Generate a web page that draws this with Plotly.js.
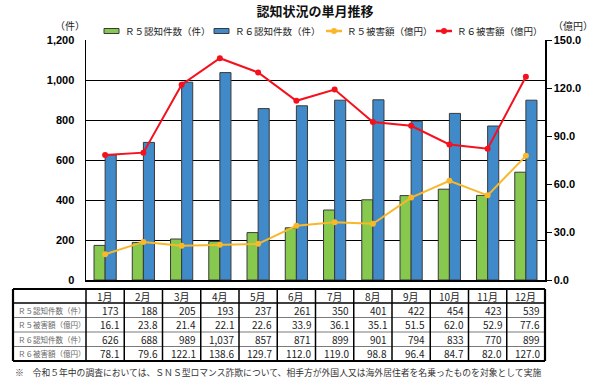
<!DOCTYPE html>
<html><head><meta charset="utf-8">
<script src="https://cdn.plot.ly/plotly-3.0.1.min.js"></script>
<style>body{margin:0;background:#fff}</style>
</head><body><div id="chart" style="width:595px;height:380px"></div>
<script>
const months = ['1月','2月','3月','4月','5月','6月','7月','8月','9月','10月','11月','12月'];
const r5Count = [173,188,205,193,237,261,350,401,422,454,423,539];
const r5Damage = [16.1,23.8,21.4,22.1,22.6,33.9,36.1,35.1,51.5,62.0,52.9,77.6];
const r6Count = [626,688,989,1037,857,871,899,901,794,833,770,899];
const r6Damage = [78.1,79.6,122.1,138.6,129.7,112.0,119.0,98.8,96.4,84.7,82.0,127.0];
const nameR5Count = 'Ｒ５認知件数（件）';
const nameR6Count = 'Ｒ６認知件数（件）';
const nameR5Damage = 'Ｒ５被害額（億円）';
const nameR6Damage = 'Ｒ６被害額（億円）';
const leftTicks = [0,200,400,600,800,1000,1200];
const rightTicks = [0,30,60,90,120,150];
const titleText = '認知状況の単月推移';
const footnote = '※　令和５年中の調査においては、ＳＮＳ型ロマンス詐欺について、相手方が外国人又は海外居住者を名乗ったものを対象として実施';

const JP = '"Noto Sans CJK JP", "Noto Sans", sans-serif';
const W = 595, H = 380, L = 86, R = 50, T = 40, B = 100;
const pw = W - L - R, ph = H - T - B;
const px2x = p => (p - L) / pw;
const py2y = p => (H - B - p) / ph;

const colors = {g:'#86C94E', b:'#418AC9', o:'#F9B72A', r:'#F5101E'};

const traces = [
  {type:'bar', x:months, y:r5Count, name:nameR5Count, marker:{color:colors.g, line:{color:'#3a3a3a', width:1}}, yaxis:'y'},
  {type:'bar', x:months, y:r6Count, name:nameR6Count, marker:{color:colors.b, line:{color:'#3a3a3a', width:1}}, yaxis:'y'},
  {type:'scatter', mode:'lines+markers', x:months, y:r5Damage, name:nameR5Damage, line:{color:colors.o, width:2}, marker:{color:colors.o, size:6}, yaxis:'y2'},
  {type:'scatter', mode:'lines+markers', x:months, y:r6Damage, name:nameR6Damage, line:{color:colors.r, width:2}, marker:{color:colors.r, size:6}, yaxis:'y2'}
];

const shapes = [];
const annotations = [];
// manual legend
const legY = 31;
const legItems = [
  {x:104, kind:'bar', color:colors.g, name:nameR5Count},
  {x:214, kind:'bar', color:colors.b, name:nameR6Count},
  {x:326, kind:'line', color:colors.o, name:nameR5Damage},
  {x:436, kind:'line', color:colors.r, name:nameR6Damage}
];
legItems.forEach(it => {
  if (it.kind === 'bar') {
    shapes.push({type:'rect', xref:'paper', yref:'paper', x0:px2x(it.x), x1:px2x(it.x+15), y0:py2y(legY+2.5), y1:py2y(legY-2.5),
      fillcolor:it.color, line:{color:'#3a3a3a', width:1}});
  } else {
    shapes.push({type:'line', xref:'paper', yref:'paper', x0:px2x(it.x), x1:px2x(it.x+16), y0:py2y(legY), y1:py2y(legY),
      line:{color:it.color, width:2.5}});
    shapes.push({type:'circle', xref:'paper', yref:'paper', x0:px2x(it.x+5), x1:px2x(it.x+11), y0:py2y(legY+3), y1:py2y(legY-3),
      fillcolor:it.color, line:{color:it.color, width:0}});
  }
  annotations.push({xref:'paper', yref:'paper', x:px2x(it.x+19), y:py2y(legY), text:it.name, showarrow:false,
    xanchor:'left', yanchor:'middle', font:{family:JP, size:9.5, color:'#222'}});
});

// table geometry
const rowPx = [289, 303, 317.5, 332, 346.5, 361];
const tableLeft = px2x(13);
const colX = [tableLeft];
for (let k = 0; k <= 12; k++) colX.push(k / 12);
rowPx.forEach((p, i) => {
  const outer = (i === 0 || i === rowPx.length - 1);
  shapes.push({type:'line', xref:'paper', yref:'paper', x0:tableLeft, x1:1, y0:py2y(p), y1:py2y(p),
    line:{color: (outer || i === 1) ? '#000' : '#7a7a7a', width: outer ? 2.2 : (i===1 ? 1.5 : 1.2)}});
});
colX.forEach((x, i) => {
  const outer = (i === 0 || i === colX.length - 1);
  shapes.push({type:'line', xref:'paper', yref:'paper', x0:x, x1:x, y0:py2y(rowPx[0]), y1:py2y(rowPx[rowPx.length-1]),
    line:{color:'#000', width: outer ? 2.2 : 1.5}});
});
const rowMid = i => py2y((rowPx[i] + rowPx[i+1]) / 2);
months.forEach((m, k) => {
  annotations.push({xref:'paper', yref:'paper', x:(colX[k+1]+colX[k+2])/2, y:rowMid(0), text:m, showarrow:false,
    xanchor:'center', yanchor:'middle', font:{family:JP, size:10, color:'#222'}});
});
const rows = [
  [nameR5Count, r5Count.map(v => v.toLocaleString('en-US'))],
  [nameR5Damage, r5Damage.map(v => v.toFixed(1))],
  [nameR6Count, r6Count.map(v => v.toLocaleString('en-US'))],
  [nameR6Damage, r6Damage.map(v => v.toFixed(1))]
];
const pad = 3 / pw;
rows.forEach((r, i) => {
  annotations.push({xref:'paper', yref:'paper', x:tableLeft + pad, y:rowMid(i+1), text:r[0], showarrow:false,
    xanchor:'left', yanchor:'middle', font:{family:JP, size:7.5, color:'#666'}});
  r[1].forEach((t, k) => {
    annotations.push({xref:'paper', yref:'paper', x:colX[k+2] - pad, y:rowMid(i+1), text:t, showarrow:false,
      xanchor:'right', yanchor:'middle', font:{family:JP, size:10, color:'#222'}});
  });
});
annotations.push({xref:'paper', yref:'paper', x:px2x(13), y:py2y(372), text:footnote, showarrow:false,
  xanchor:'left', yanchor:'middle', font:{family:JP, size:8.8, color:'#333'}});
annotations.push({xref:'paper', yref:'paper', x:px2x(70), y:py2y(26), text:'（件）', showarrow:false,
  xanchor:'center', yanchor:'middle', font:{family:JP, size:10, color:'#222'}});
annotations.push({xref:'paper', yref:'paper', x:px2x(573), y:py2y(26), text:'（億円）', showarrow:false,
  xanchor:'center', yanchor:'middle', font:{family:JP, size:10, color:'#222'}});

const layout = {
  width:W, height:H,
  margin:{l:L, r:R, t:T, b:B},
  paper_bgcolor:'#fff', plot_bgcolor:'#fff',
  title:{text:'<b>'+titleText+'</b>', x:315/W, xanchor:'center', y:1 - 11/H, yanchor:'middle', font:{family:JP, size:13, color:'#111'}},
  barmode:'group', bargap:0.42, bargroupgap:0,
  showlegend:false,
  xaxis:{type:'category', range:[-0.5, 11.5], showticklabels:false, ticks:'', showgrid:false, showline:true, linecolor:'#000', linewidth:1.5, zeroline:false, fixedrange:true},
  yaxis:{range:[0,1200], tickvals:leftTicks, tickformat:',', showgrid:true, gridcolor:'#000', gridwidth:1, showline:true, linecolor:'#000', linewidth:1.5, zeroline:false,
    tickfont:{family:'"Liberation Sans", Arial, sans-serif', size:11, color:'#000', weight:'bold'}, ticklabelstandoff:8},
  yaxis2:{range:[0,150], tickvals:rightTicks, tickformat:'.1f', overlaying:'y', side:'right', showgrid:false, showline:true, linecolor:'#000', linewidth:1.5, zeroline:false,
    ticks:'outside', ticklen:5, tickcolor:'#000', tickfont:{family:'"Liberation Sans", Arial, sans-serif', size:11, color:'#000', weight:'bold'}},
  shapes:shapes, annotations:annotations
};
Plotly.newPlot('chart', traces, layout, {displayModeBar:false, staticPlot:true});
</script></body></html>
